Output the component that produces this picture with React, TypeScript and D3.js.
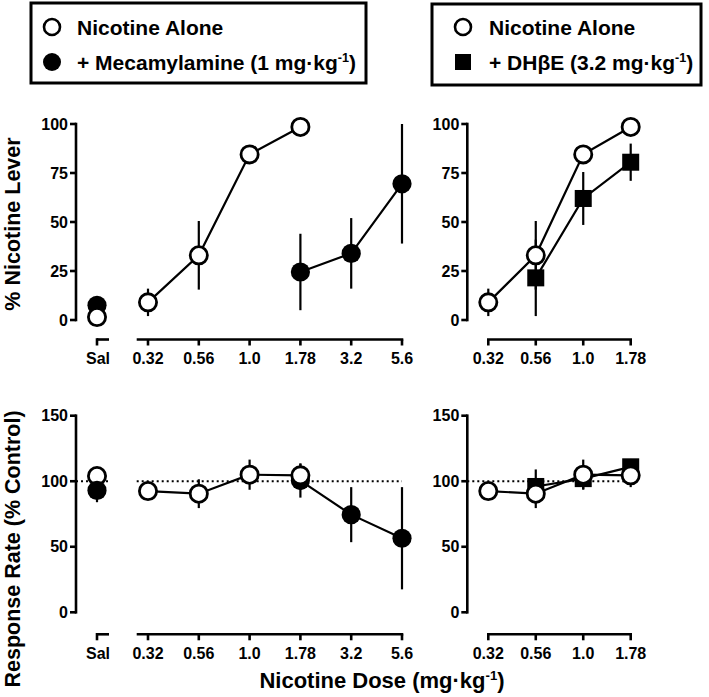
import React from "react";
import * as d3 from "d3";

// ---------- data ----------
const doses = ["0.32", "0.56", "1.0", "1.78", "3.2", "5.6"];
const dosesRight = ["0.32", "0.56", "1.0", "1.78"];
const leverTicks = [0, 25, 50, 75, 100];
const rateTicks = [0, 50, 100, 150];

// % nicotine lever
const aloneLeverSal = 1.5;
const aloneLeverDoses = ["0.32", "0.56", "1.0", "1.78"];
const aloneLever = [9, 33, 84.5, 98.5];
const aloneLeverErr = [7, 17.5, 0, 0];

const mecLeverSal = 7.5;
const mecDoses = ["1.78", "3.2", "5.6"];
const mecLever = [24.5, 34, 69.5];
const mecLeverErr = [19.5, 18, 30.5];

const dhbeDoses = ["0.56", "1.0", "1.78"];
const dhbeLever = [21.5, 62, 80.5];
const dhbeLeverErr = [19.5, 13.5, 9.5];

// response rate
const aloneRateSal = 104;
const aloneRate = [92.5, 90.5, 105, 104.5];
const aloneRateErr = [0, 11, 11.5, 9];

const mecRateSal = 93;
const mecRateSalErr = 9;
const mecRate = [100.5, 74.5, 56.5];
const mecRateErr = [13, 21, 39];

const dhbeRate = [96, 102, 111];
const dhbeRateErr = [13, 8, 6];

// ---------- layout ----------
const FONT = "'Liberation Sans', Arial, Helvetica, sans-serif";
const AX = 2.6;
const TICKFS = 16;

const xLeft = d3.scalePoint<string>().domain(doses).range([148, 402]);
const xRight = d3.scalePoint<string>().domain(dosesRight).range([488.3, 630.7]);
const salX = 97;
const yLever = d3.scaleLinear().domain([0, 100]).range([320, 124]);
const yRate = d3.scaleLinear().domain([0, 150]).range([612.3, 415.7]);

const line = (xs: number[], ys: number[]) =>
  d3.line()(xs.map((x, i) => [x, ys[i]] as [number, number])) || "";

function YAxis({ x, y, ticks }: { x: number; y: d3.ScaleLinear<number, number>; ticks: number[] }) {
  const d = y.domain();
  return (
    <g>
      <line x1={x} x2={x} y1={y(d[0])} y2={y(d[1])} stroke="#000" strokeWidth={AX} strokeLinecap="square" />
      {ticks.map((t) => (
        <g key={t}>
          <line x1={x - 6} x2={x} y1={y(t)} y2={y(t)} stroke="#000" strokeWidth={AX} />
          <text x={x - 8} y={y(t) + 5.7} textAnchor="end" fontSize={TICKFS} fontWeight="bold" fontFamily={FONT}>
            {t}
          </text>
        </g>
      ))}
    </g>
  );
}

function XAxis({ x, cats, y, x0, withSal }: { x: d3.ScalePoint<string>; cats: string[]; y: number; x0: number; withSal: boolean }) {
  const last = x(cats[cats.length - 1]) as number;
  return (
    <g>
      {withSal && (
        <g>
          <line x1={salX} x2={salX + 12} y1={y} y2={y} stroke="#000" strokeWidth={AX} />
          <line x1={salX} x2={salX} y1={y - 1.3} y2={y + 6} stroke="#000" strokeWidth={AX} />
          <text x={salX + 1} y={y + 24.5} textAnchor="middle" fontSize={TICKFS} fontWeight="bold" fontFamily={FONT}>
            Sal
          </text>
        </g>
      )}
      <line x1={x0} x2={last + 1.3} y1={y} y2={y} stroke="#000" strokeWidth={AX} />
      {cats.map((c) => (
        <g key={c}>
          <line x1={x(c)} x2={x(c)} y1={y} y2={y + 6} stroke="#000" strokeWidth={AX} />
          <text x={x(c)} y={y + 24.5} textAnchor="middle" fontSize={TICKFS} fontWeight="bold" fontFamily={FONT}>
            {c}
          </text>
        </g>
      ))}
    </g>
  );
}

function ErrBar({ x, y, v, e }: { x: number; y: d3.ScaleLinear<number, number>; v: number; e: number }) {
  if (!e) return null;
  return <line x1={x} x2={x} y1={y(v - e)} y2={y(v + e)} stroke="#000" strokeWidth={2.2} />;
}

const OpenC = ({ x, y }: { x: number; y: number }) => (
  <circle cx={x} cy={y} r={8.6} fill="#fff" stroke="#000" strokeWidth={2.8} />
);
const FillC = ({ x, y }: { x: number; y: number }) => <circle cx={x} cy={y} r={9.6} fill="#000" />;
const Sq = ({ x, y }: { x: number; y: number }) => <rect x={x - 8.5} y={y - 8.5} width={17} height={17} fill="#000" />;

function Series({
  xs, ys, errs, y, Marker,
}: { xs: number[]; ys: number[]; errs: number[]; y: d3.ScaleLinear<number, number>; Marker: any }) {
  return (
    <g>
      {xs.map((x, i) => <ErrBar key={"e" + i} x={x} y={y} v={ys[i]} e={errs[i]} />)}
      <path d={line(xs, ys.map((v) => y(v)))} fill="none" stroke="#000" strokeWidth={2.2} />
      {xs.map((x, i) => <Marker key={"m" + i} x={x} y={y(ys[i])} />)}
    </g>
  );
}

const Sup = ({ children }: { children: string }) => (
  <>
    <tspan dy={-8} fontSize="0.6em">{children}</tspan>
    <tspan dy={8}>)</tspan>
  </>
);

export default function App() {
  const axLeverY = 339.5;
  const axRateY = 634.3;
  const xl = (arr: string[]) => arr.map((c) => xLeft(c) as number);
  const xr = (arr: string[]) => arr.map((c) => xRight(c) as number);
  const dotted = { stroke: "#000", strokeWidth: 2, strokeDasharray: "2,3" };

  return (
    <div style={{ position: "absolute", left: 0, top: 0 }}>
      <svg width={709} height={697} viewBox="0 0 709 697" style={{ display: "block", background: "#fff" }}>
        <rect width={709} height={697} fill="#fff" />

        {/* Legends */}
        <g fontFamily={FONT} fontWeight="bold" fontSize={21}>
          <rect x={31} y={3} width={335} height={80} fill="none" stroke="#000" strokeWidth={3} />
          <circle cx={52} cy={27} r={8} fill="#fff" stroke="#000" strokeWidth={2.6} />
          <text x={77} y={34.5}>Nicotine Alone</text>
          <circle cx={52} cy={62} r={9} fill="#000" />
          <text x={77} y={69.5}>
            + Mecamylamine (1 mg·kg<Sup>-1</Sup>
          </text>

          <rect x={432} y={4} width={269} height={81} fill="none" stroke="#000" strokeWidth={3} />
          <circle cx={463} cy={27} r={8} fill="#fff" stroke="#000" strokeWidth={2.6} />
          <text x={489} y={34.5}>Nicotine Alone</text>
          <rect x={455} y={54} width={16} height={16} fill="#000" />
          <text x={489} y={69.5}>
            + DHβE (3.2 mg·kg<Sup>-1</Sup>
          </text>
        </g>

        {/* Axis titles */}
        <g fontFamily={FONT} fontWeight="bold" fontSize={21.5}>
          <text transform="translate(19.5,224) rotate(-90)" textAnchor="middle">% Nicotine Lever</text>
          <text transform="translate(19.5,549) rotate(-90)" textAnchor="middle">Response Rate (% Control)</text>
        </g>
        <text x={382} y={688} textAnchor="middle" fontFamily={FONT} fontWeight="bold" fontSize={22}>
          Nicotine Dose (mg·kg<Sup>-1</Sup>
        </text>

        {/* Top-left: % nicotine lever, mecamylamine */}
        <YAxis x={76} y={yLever} ticks={leverTicks} />
        <XAxis x={xLeft} cats={doses} y={axLeverY} x0={136.7} withSal />
        <FillC x={salX} y={yLever(mecLeverSal)} />
        <OpenC x={salX} y={yLever(aloneLeverSal)} />
        <Series xs={xl(mecDoses)} ys={mecLever} errs={mecLeverErr} y={yLever} Marker={FillC} />
        <Series xs={xl(aloneLeverDoses)} ys={aloneLever} errs={aloneLeverErr} y={yLever} Marker={OpenC} />

        {/* Top-right: % nicotine lever, DHbE */}
        <YAxis x={467.3} y={yLever} ticks={leverTicks} />
        <XAxis x={xRight} cats={dosesRight} y={axLeverY} x0={488.3 - 1.3} withSal={false} />
        <Series xs={xr(dhbeDoses)} ys={dhbeLever} errs={dhbeLeverErr} y={yLever} Marker={Sq} />
        <Series xs={xr(aloneLeverDoses)} ys={aloneLever} errs={aloneLeverErr} y={yLever} Marker={OpenC} />

        {/* Bottom-left: response rate, mecamylamine */}
        <line x1={76} x2={salX + 12} y1={yRate(100)} y2={yRate(100)} {...dotted} />
        <line x1={136.7} x2={xLeft("5.6") as number} y1={yRate(100)} y2={yRate(100)} {...dotted} />
        <YAxis x={76} y={yRate} ticks={rateTicks} />
        <XAxis x={xLeft} cats={doses} y={axRateY} x0={136.7} withSal />
        <ErrBar x={salX} y={yRate} v={mecRateSal} e={mecRateSalErr} />
        <OpenC x={salX} y={yRate(aloneRateSal)} />
        <FillC x={salX} y={yRate(mecRateSal)} />
        <Series xs={xl(mecDoses)} ys={mecRate} errs={mecRateErr} y={yRate} Marker={FillC} />
        <Series xs={xl(aloneLeverDoses)} ys={aloneRate} errs={aloneRateErr} y={yRate} Marker={OpenC} />

        {/* Bottom-right: response rate, DHbE */}
        <line x1={467.3} x2={xRight("1.78") as number} y1={yRate(100)} y2={yRate(100)} {...dotted} />
        <YAxis x={467.3} y={yRate} ticks={rateTicks} />
        <XAxis x={xRight} cats={dosesRight} y={axRateY} x0={488.3 - 1.3} withSal={false} />
        <Series xs={xr(dhbeDoses)} ys={dhbeRate} errs={dhbeRateErr} y={yRate} Marker={Sq} />
        <Series xs={xr(aloneLeverDoses)} ys={aloneRate} errs={aloneRateErr} y={yRate} Marker={OpenC} />
      </svg>
    </div>
  );
}
